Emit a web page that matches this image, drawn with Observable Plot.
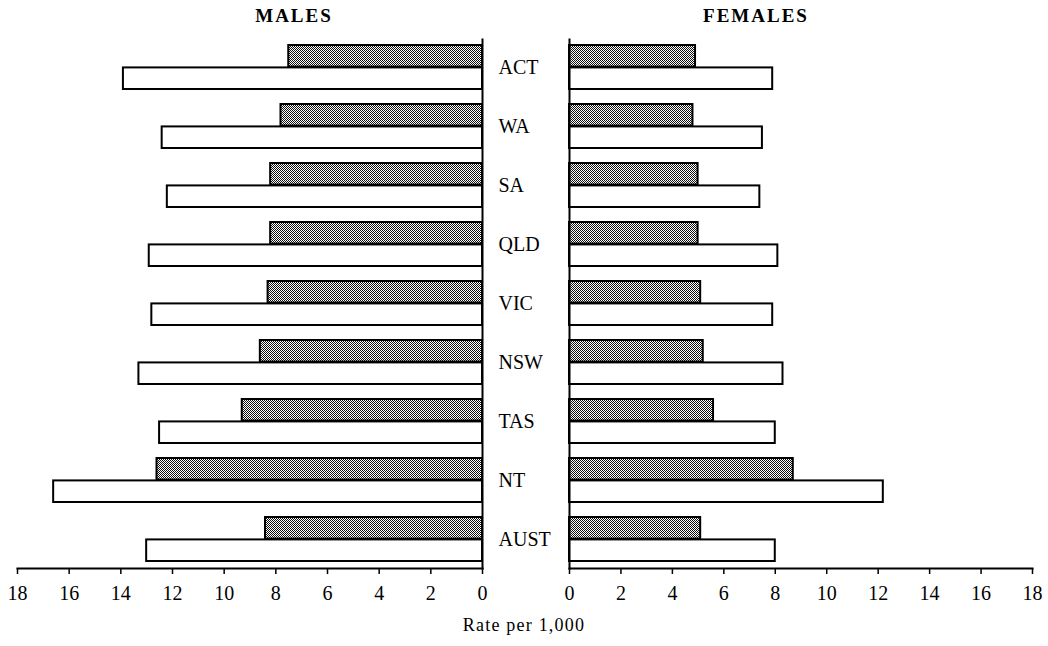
<!DOCTYPE html>
<html><head><meta charset="utf-8">
<script src="https://cdn.jsdelivr.net/npm/d3@7"></script>
<script src="https://cdn.jsdelivr.net/npm/@observablehq/plot@0.6"></script>
<style>
body{margin:0;background:#fff;}
#wrap{position:relative;width:1048px;height:646px;font-family:"Liberation Serif","Times New Roman",serif;color:#000;overflow:hidden;}
.title{position:absolute;top:5px;font-weight:bold;font-size:19px;line-height:22px;letter-spacing:2px;transform:translateX(-50%);white-space:nowrap;}
.xlab{position:absolute;top:615px;left:524px;font-size:18px;line-height:20px;letter-spacing:1.2px;transform:translateX(-50%);white-space:nowrap;}
svg{position:absolute;top:0;}
</style></head><body><div id="wrap"></div>
<script>
const states = ["ACT","WA","SA","QLD","VIC","NSW","TAS","NT","AUST"];
const malesShaded = [7.5, 7.8, 8.2, 8.2, 8.3, 8.6, 9.3, 12.6, 8.4];
const malesWhite = [13.9, 12.4, 12.2, 12.9, 12.8, 13.3, 12.5, 16.6, 13.0];
const femalesShaded = [4.9, 4.8, 5.0, 5.0, 5.1, 5.2, 5.6, 8.7, 5.1];
const femalesWhite = [7.9, 7.5, 7.4, 8.1, 7.9, 8.3, 8.0, 12.2, 8.0];
const tickValues = [0, 2, 4, 6, 8, 10, 12, 14, 16, 18];
const panelTitles = ["MALES", "FEMALES"];
const axisLabel = "Rate per 1,000";

const H = 620, MT = 39, MB = H - 568;
const padIn = 0.25, padOut = 0.05;
const step = (H - MT - MB) / (states.length - padIn + 2 * padOut);
const half = step * (1 - padIn) / 2;

const wrap = document.getElementById("wrap");

function panel(shaded, white, isMale, patId) {
  const rows = states.map((s, i) => ({state: s, shaded: shaded[i], white: white[i]}));
  const marks = [
    Plot.barX(rows, {y: "state", x: "white", fill: "white", stroke: "black", strokeWidth: 2, insetTop: half}),
    Plot.barX(rows, {y: "state", x: "shaded", fill: `url(#${patId})`, stroke: "black", strokeWidth: 2, insetBottom: half}),
    Plot.frame({anchor: "bottom", strokeWidth: 2}),
    Plot.frame({anchor: isMale ? "right" : "left", strokeWidth: 2}),
    Plot.axisX({ticks: tickValues, tickSize: 6, tickPadding: 11, fontSize: 20, strokeWidth: 1.5, label: null})
  ];
  if (isMale) marks.push(Plot.text(rows, {y: "state", x: 0, text: "state", dx: 16, textAnchor: "start", fontSize: 20}));
  const svg = Plot.plot({
    width: isMale ? 560 : 488,
    height: H,
    marginTop: MT, marginBottom: MB,
    marginLeft: isMale ? 17 : 9,
    marginRight: isMale ? 78 : 16,
    x: {domain: [0, 18], reverse: isMale},
    y: {domain: states, paddingInner: padIn, paddingOuter: padOut, axis: null},
    style: {fontFamily: '"Liberation Serif","Times New Roman",serif', color: "black", background: "transparent", overflow: "visible"},
    marks
  });
  const defs = d3.select(svg).insert("defs", ":first-child");
  const p = defs.append("pattern").attr("id", patId).attr("patternUnits", "userSpaceOnUse").attr("width", 2).attr("height", 2);
  p.append("rect").attr("width", 2).attr("height", 2).attr("fill", "#ffffff");
  p.append("rect").attr("x", 0).attr("y", 0).attr("width", 1).attr("height", 1).attr("fill", "#111");
  p.append("rect").attr("x", 1).attr("y", 1).attr("width", 1).attr("height", 1).attr("fill", "#111");
  svg.style.left = (isMale ? 0 : 560) + "px";
  wrap.appendChild(svg);
}
panel(malesShaded, malesWhite, true, "dotsM");
panel(femalesShaded, femalesWhite, false, "dotsF");

const t1 = document.createElement("div"); t1.className = "title"; t1.style.left = "294px"; t1.textContent = panelTitles[0]; wrap.appendChild(t1);
const t2 = document.createElement("div"); t2.className = "title"; t2.style.left = "756px"; t2.textContent = panelTitles[1]; wrap.appendChild(t2);
const xl = document.createElement("div"); xl.className = "xlab"; xl.textContent = axisLabel; wrap.appendChild(xl);
</script></body></html>
